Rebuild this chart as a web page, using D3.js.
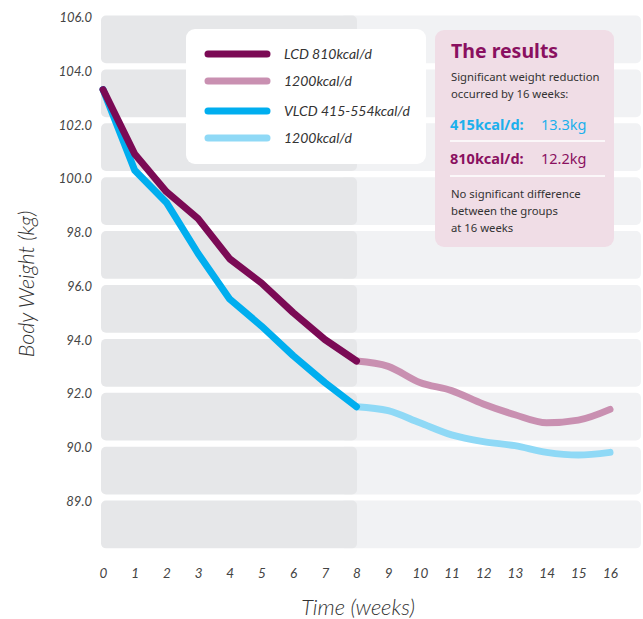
<!DOCTYPE html>
<html><head><meta charset="utf-8">
<script src="https://cdn.jsdelivr.net/npm/d3@7"></script>
<style>
html,body{margin:0;padding:0;background:#fff;}
svg{display:block;font-family:Lato,"Open Sans",sans-serif;}
</style></head>
<body><svg id="c" width="643" height="619"></svg>
<script>
const weeksLCD = [0,1,2,3,4,5,6,7,8];
const lcdValues = [103.3,100.9,99.5,98.5,97.0,96.1,95.0,94.0,93.2];
const weeksMaint = [8,9,10,11,12,13,14,15,16];
const lcdMaintValues = [93.2,93.0,92.4,92.1,91.6,91.2,90.9,91.0,91.4];
const vlcdValues = [103.3,100.3,99.1,97.2,95.5,94.5,93.4,92.4,91.5];
const vlcdMaintValues = [91.5,91.35,90.9,90.45,90.2,90.05,89.8,89.7,89.8];
const xTickValues = [0,1,2,3,4,5,6,7,8,9,10,11,12,13,14,15,16];
const yTickValues = [106,104,102,100,98,96,94,92,90,88];
const yTickLabels = ["106.0","104.0","102.0","100.0","98.0","96.0","94.0","92.0","90.0","89.0"];
const legendLabels = ["LCD 810kcal/d","1200kcal/d","VLCD 415-554kcal/d","1200kcal/d"];
const colors = ["#7b0a55","#c990b1","#00aeef","#8fd9f6"];

const svg = d3.select("#c");
const x = d3.scaleLinear().domain([0,16]).range([103,610]);
const y = d3.scaleLinear().domain([88,106]).range([500.75,17]);
const band = y(104)-y(106);
const bandH = band - 6;

// background bands
const bandTops = yTickValues;
const bg = svg.append("g");
bg.selectAll("rect.r").data(bandTops).enter().append("rect")
  .attr("x", 340).attr("width", 301).attr("y", (d,i)=>y(d)-1.5+i*0.15).attr("height", bandH)
  .attr("rx",5).attr("fill","#f1f2f4");
bg.selectAll("rect.l").data(bandTops).enter().append("rect")
  .attr("x", 101).attr("width", 256).attr("y", (d,i)=>y(d)-1.5+i*0.15).attr("height", bandH)
  .attr("rx",5).attr("fill","#e6e7e9");

// axes
const yAxis = d3.axisLeft(y).tickValues(yTickValues).tickSize(0).tickPadding(0)
  .tickFormat((d,i)=>yTickLabels[i]);
const ga = svg.append("g").attr("transform","translate(92,0)").call(yAxis);
ga.select(".domain").remove();
ga.selectAll("text").attr("font-size",13).attr("font-style","italic").attr("fill","#444")
  .attr("font-family","Lato,sans-serif").attr("dy","0.35em");

const xAxis = d3.axisBottom(x).tickValues(xTickValues).tickSize(0).tickPadding(0);
const gx = svg.append("g").attr("transform","translate(0,568)").call(xAxis);
gx.select(".domain").remove();
gx.selectAll("text").attr("font-size",13.5).attr("font-style","italic").attr("fill","#444")
  .attr("font-family","Lato,sans-serif").attr("dy","0.71em");

svg.append("text").attr("x",358).attr("y",615).attr("text-anchor","middle")
  .attr("font-size",22).attr("font-style","italic").attr("fill","#333").attr("font-weight",300)
  .text("Time (weeks)");
svg.append("text").attr("transform","translate(34,284) rotate(-90)").attr("text-anchor","middle")
  .attr("font-size",21.5).attr("font-style","italic").attr("fill","#333").attr("font-weight",300)
  .text("Body Weight (kg)");

// lines
const line = d3.line().x(d=>x(d[0])).y(d=>y(d[1])).curve(d3.curveLinear);
const smooth = d3.line().x(d=>x(d[0])).y(d=>y(d[1])).curve(d3.curveMonotoneX);
const series = [
  {w:weeksMaint, v:lcdMaintValues, c:colors[1], gen:smooth},
  {w:weeksMaint, v:vlcdMaintValues, c:colors[3], gen:smooth},
  {w:weeksLCD, v:vlcdValues, c:colors[2], gen:line},
  {w:weeksLCD, v:lcdValues, c:colors[0], gen:line}
];
svg.append("g").selectAll("path").data(series).enter().append("path")
  .attr("d", s=>s.gen(s.w.map((w,i)=>[w,s.v[i]])))
  .attr("fill","none").attr("stroke",s=>s.c).attr("stroke-width",7)
  .attr("stroke-linecap","round").attr("stroke-linejoin","round");

// legend
const lg = svg.append("g");
lg.append("rect").attr("x",186).attr("y",29).attr("width",240).attr("height",135).attr("rx",9).attr("fill","#fff");
const ly = [54,81,111,138];
legendLabels.forEach((t,i)=>{
  lg.append("line").attr("x1",208).attr("x2",267).attr("y1",ly[i]).attr("y2",ly[i])
    .attr("stroke",colors[i]).attr("stroke-width",7).attr("stroke-linecap","round");
  lg.append("text").attr("x",284).attr("y",ly[i]).attr("dy","0.35em")
    .attr("font-size",14).attr("font-style","italic").attr("fill","#333").text(t);
});

// results box
const rb = svg.append("g");
rb.append("rect").attr("x",435).attr("y",30).attr("width",179).attr("height",217).attr("rx",9).attr("fill","#f0dde6");
rb.append("text").attr("x",451).attr("y",58).attr("font-size",19.5).attr("font-weight",700)
  .attr("fill","#8a1060").attr("font-family","'Noto Sans',sans-serif").text("The results");
const small = (t,yy)=>rb.append("text").attr("x",451).attr("y",yy).attr("font-size",11.3)
  .attr("fill","#333").attr("font-family","'Noto Sans',sans-serif").text(t);
small("Significant weight reduction",81);
small("occurred by 16 weeks:",98);
rb.append("text").attr("x",450).attr("y",130).attr("font-size",14.5).attr("font-weight",700)
  .attr("fill","#1cb0ec").attr("font-family","'Noto Sans',sans-serif").text("415kcal/d:");
rb.append("text").attr("x",541).attr("y",130).attr("font-size",14.5)
  .attr("fill","#1cb0ec").attr("font-family","'Noto Sans',sans-serif").text("13.3kg");
rb.append("line").attr("x1",450).attr("x2",605).attr("y1",141).attr("y2",141).attr("stroke","#fff").attr("stroke-width",1.5);
rb.append("text").attr("x",450).attr("y",164).attr("font-size",14.5).attr("font-weight",700)
  .attr("fill","#8a1060").attr("font-family","'Noto Sans',sans-serif").text("810kcal/d:");
rb.append("text").attr("x",541).attr("y",164).attr("font-size",14.5)
  .attr("fill","#8a1060").attr("font-family","'Noto Sans',sans-serif").text("12.2kg");
rb.append("line").attr("x1",450).attr("x2",605).attr("y1",176).attr("y2",176).attr("stroke","#fff").attr("stroke-width",1.5);
small("No significant difference",198);
small("between the groups",215);
small("at 16 weeks",232);
</script></body></html>
